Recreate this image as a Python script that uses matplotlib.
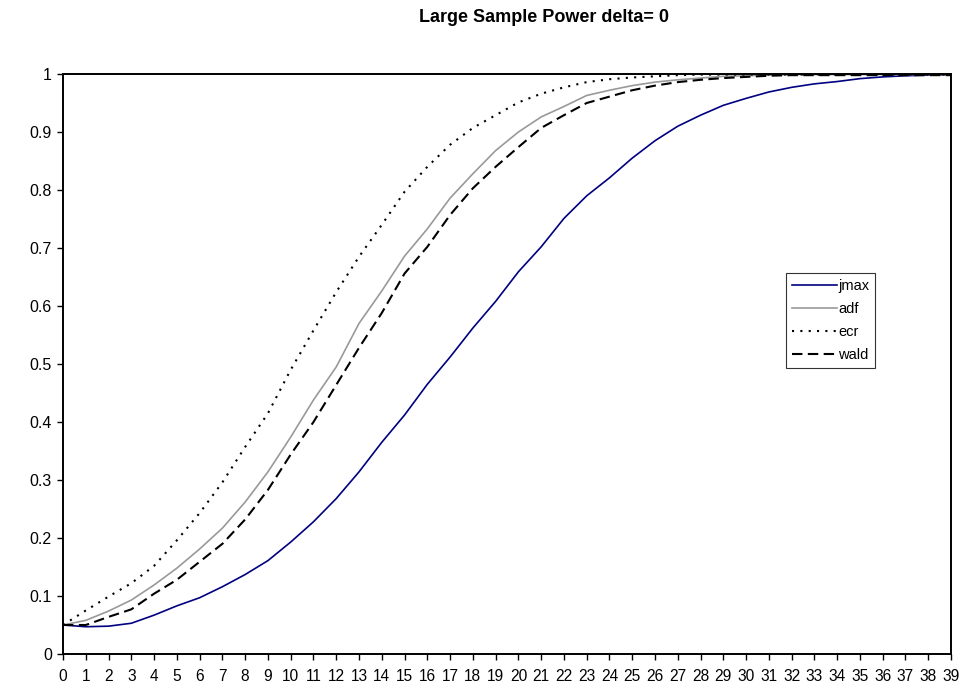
import numpy as np
import matplotlib.pyplot as plt

plt.rcParams['font.family'] = ['Liberation Sans', 'DejaVu Sans']

# power curves
x = list(range(40))
jmax = [0.050, 0.047, 0.048, 0.053, 0.067, 0.083, 0.097, 0.116, 0.137, 0.161,
        0.193, 0.228, 0.268, 0.314, 0.365, 0.412, 0.465, 0.512, 0.562, 0.608,
        0.659, 0.702, 0.751, 0.790, 0.821, 0.855, 0.885, 0.910, 0.929, 0.946,
        0.958, 0.969, 0.977, 0.983, 0.987, 0.992, 0.995, 0.997, 0.998, 0.999]
adf = [0.050, 0.058, 0.074, 0.093, 0.119, 0.148, 0.181, 0.217, 0.262, 0.314,
       0.374, 0.438, 0.495, 0.570, 0.626, 0.686, 0.733, 0.786, 0.828, 0.868,
       0.900, 0.926, 0.944, 0.963, 0.972, 0.980, 0.986, 0.990, 0.993, 0.996,
       0.997, 0.998, 0.999, 0.999, 0.999, 0.999, 0.999, 0.999, 0.999, 0.999]
ecr = [0.050, 0.075, 0.099, 0.122, 0.152, 0.196, 0.243, 0.296, 0.357, 0.415,
       0.490, 0.558, 0.624, 0.685, 0.740, 0.797, 0.840, 0.878, 0.907, 0.929,
       0.951, 0.966, 0.977, 0.986, 0.991, 0.994, 0.996, 0.998, 0.999, 0.999,
       0.999, 0.999, 0.999, 0.999, 0.999, 0.999, 0.999, 0.999, 0.999, 0.999]
wald = [0.050, 0.050, 0.064, 0.077, 0.104, 0.128, 0.159, 0.190, 0.232, 0.283,
        0.344, 0.400, 0.464, 0.528, 0.588, 0.656, 0.702, 0.757, 0.803, 0.840,
        0.874, 0.907, 0.929, 0.950, 0.961, 0.972, 0.980, 0.986, 0.990, 0.993,
        0.995, 0.997, 0.998, 0.998, 0.998, 0.998, 0.998, 0.998, 0.998, 0.998]

fig = plt.figure(figsize=(9.62, 6.89), dpi=100)
ax = fig.add_axes([0.0655, 0.0508, 0.9231, 0.8418])

ax.plot(x, jmax, color='#000080', lw=1.2, label='jmax')
ax.plot(x, adf, color='#999999', lw=1.2, label='adf')
ax.plot(x, ecr, color='black', lw=1.5, linestyle=(0, (1, 3)), label='ecr')
ax.plot(x, wald, color='black', lw=1.5, linestyle=(0, (5, 2.6)), label='wald')

ax.set_xlim(0, 39)
ax.set_ylim(0, 1)
ax.set_xticks(x)
ax.set_xticklabels([str(v) for v in x])
ax.set_yticks(np.arange(0, 1.01, 0.1))
ax.set_yticklabels(['0', '0.1', '0.2', '0.3', '0.4', '0.5', '0.6', '0.7', '0.8', '0.9', '1'])
ax.tick_params(axis='both', direction='out', length=4, width=1, labelsize=11.5, pad=4)
ax.tick_params(axis='x', labelsize=11.2, pad=7)
for s in ax.spines.values():
    s.set_linewidth(1.4)
    s.set_color('black')

leg = ax.legend(loc='upper left', bbox_to_anchor=(0.814, 0.657), fontsize=10.5,
                frameon=True, fancybox=False, handlelength=3.1, handletextpad=0.1,
                borderpad=0.4, labelspacing=0.62, borderaxespad=0)
leg.get_frame().set_edgecolor('black')
leg.get_frame().set_linewidth(0.8)

fig.text(0.565, 1 - 18 / 689, 'Large Sample Power delta= 0', ha='center', va='center',
         fontsize=13, fontweight='bold')

fig.savefig('out.png', dpi=100)
